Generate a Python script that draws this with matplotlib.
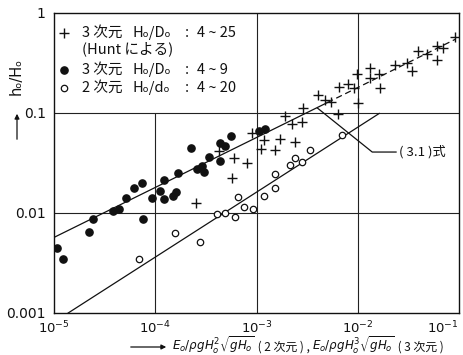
import matplotlib
matplotlib.use("Agg")
import matplotlib.pyplot as plt

plt.rcParams['font.family'] = ['DejaVu Sans', 'Noto Sans CJK JP']
plt.rcParams['mathtext.fontset'] = 'dejavusans'

# === データ ===
# + 3次元 H0/D0 : 4~25 (Hunt)
hunt_x = [2.55e-4, 4.26e-4, 5.77e-4, 5.93e-4, 8.05e-4, 8.93e-4, 1.12e-3, 1.19e-3,
          1.54e-3, 1.72e-3, 2.42e-3, 1.91e-3, 2.24e-3, 2.81e-3, 2.89e-3, 4.02e-3,
          4.79e-3, 5.48e-3, 6.33e-3, 6.46e-3, 8.1e-3, 9.24e-3, 9.9e-3, 9.96e-3,
          1.31e-2, 1.31e-2, 1.63e-2, 1.65e-2, 2.34e-2, 3.07e-2, 3.47e-2, 3.92e-2,
          4.79e-2, 6.07e-2, 6.07e-2, 6.9e-2, 9.04e-2]
hunt_y = [0.0127, 0.0414, 0.0226, 0.0357, 0.0318, 0.0635, 0.0437, 0.0543,
          0.0427, 0.0546, 0.0516, 0.0933, 0.0776, 0.0804, 0.1135, 0.150,
          0.135, 0.128, 0.098, 0.180, 0.195, 0.178, 0.245, 0.125,
          0.284, 0.224, 0.248, 0.178, 0.302, 0.318, 0.263, 0.415,
          0.392, 0.336, 0.473, 0.449, 0.571]

# ● 3次元 H0/D0 : 4~9
solid_x = [1.06e-5, 1.23e-5, 2.23e-5, 2.44e-5, 3.84e-5, 4.37e-5, 5.2e-5, 6.14e-5,
           7.36e-5, 7.58e-5, 9.38e-5, 1.11e-4, 1.21e-4, 1.21e-4, 1.50e-4, 1.62e-4,
           1.68e-4, 2.28e-4, 2.61e-4, 2.92e-4, 3.03e-4, 3.37e-4, 4.39e-4, 4.39e-4,
           4.84e-4, 5.64e-4, 1.07e-3, 1.20e-3]
solid_y = [0.00443, 0.00344, 0.0065, 0.00865, 0.0104, 0.0110, 0.0141, 0.0179,
           0.0198, 0.0087, 0.0141, 0.0166, 0.0214, 0.0138, 0.0149, 0.0161,
           0.0253, 0.045, 0.0275, 0.0297, 0.0255, 0.036, 0.0498, 0.0333,
           0.0468, 0.0585, 0.066, 0.069]

# ○ 2次元 H0/d0 : 4~20
open_x = [6.92e-5, 1.56e-4, 2.79e-4, 4.06e-4, 4.84e-4, 6.14e-4, 6.6e-4, 7.5e-4,
          9.14e-4, 1.18e-3, 1.54e-3, 1.54e-3, 2.15e-3, 2.42e-3, 2.81e-3, 3.39e-3,
          6.98e-3]
open_y = [0.00343, 0.00635, 0.0051, 0.0098, 0.0101, 0.00906, 0.0144, 0.0116,
          0.011, 0.0149, 0.0179, 0.0245, 0.030, 0.0357, 0.032, 0.043,
          0.0596]

# (3.1)式の直線
line3d_x = [1e-5, 5e-3, 9.2e-2]
line3d_y = [0.0057, 0.127, 0.546]
line2d_x = [1.38e-5, 1.63e-2]
line2d_y = [0.001, 0.099]
leader_x = [4.0e-3, 1.39e-2, 2.39e-2]
leader_y = [0.112, 0.0407, 0.0407]

xticks = [1e-5, 1e-4, 1e-3, 1e-2, 1e-1]
xtick_labels = [r"$10^{-5}$", r"$10^{-4}$", r"$10^{-3}$", r"$10^{-2}$", r"$10^{-1}$"]
yticks = [1e-3, 1e-2, 1e-1, 1]
ytick_labels = ["0.001", "0.01", "0.1", "1"]

cjk = ['Noto Sans CJK JP', 'DejaVu Sans']

# === 図 ===
fig = plt.figure(figsize=(4.63, 3.55), dpi=100)
ax = fig.add_axes([54 / 463, 42 / 355, 405 / 463, 300 / 355])
ax.set_xscale("log")
ax.set_yscale("log")
ax.set_xlim(1e-5, 1e-1)
ax.set_ylim(1e-3, 1)
ax.minorticks_off()
ax.set_xticks(xticks, xtick_labels)
ax.set_yticks(yticks, ytick_labels)
ax.tick_params(length=0, colors="#111")
ax.tick_params(axis="y", pad=6, labelsize=10)
ax.tick_params(axis="x", pad=5, labelsize=9.5)
ax.get_xticklabels()[-1].set_horizontalalignment("right")
for s in ax.spines.values():
    s.set_linewidth(1.0)
    s.set_color("#111")

# グリッド（凡例の枠を兼ねる）
gkw = dict(color="#222", lw=0.8, zorder=1)
ax.axhline(0.1, **gkw)
ax.axhline(0.01, **gkw)
ax.axvline(1e-3, **gkw)
ax.axvline(1e-2, **gkw)
ax.vlines(1e-4, 1e-3, 0.1, **gkw)

# 直線
ax.plot(line3d_x[:2], line3d_y[:2], color="#111", lw=0.9, zorder=2)
ax.plot(line3d_x[1:], line3d_y[1:], color="#111", lw=0.9, ls=(0, (5, 3)), zorder=2)
ax.plot(line2d_x, line2d_y, color="#111", lw=0.9, zorder=2)
ax.plot(leader_x, leader_y, color="#111", lw=0.9, zorder=2)
ax.text(leader_x[-1] * 1.08, leader_y[-1], "( 3.1 )式", family=cjk, fontsize=9.5,
        va="center", ha="left", color="#111")

# データ点
ax.plot(hunt_x, hunt_y, ls="none", marker="+", ms=6.5, mew=1.0, color="#111", zorder=3)
ax.plot(solid_x, solid_y, ls="none", marker="o", ms=5.2, color="#111", zorder=3)
ax.plot(open_x, open_y, ls="none", marker="o", ms=4.6, mfc="white", mec="#111",
        mew=0.9, zorder=3)

# 凡例（手書き配置）
def ax_xy(px, py):
    return (px - 54) / 405, (313 - py) / 300

leg_rows = [
    ("+", dict(ms=6.5, mew=1.0, mfc="#111"), 33, "3 次元", "Hₒ/Dₒ", "4 ~ 25"),
    ("o", dict(ms=5.2, mfc="#111"), 70, "3 次元", "Hₒ/Dₒ", "4 ~ 9"),
    ("o", dict(ms=4.6, mfc="white", mew=0.9), 88, "2 次元", "Hₒ/dₒ", "4 ~ 20"),
]
for mk, kw, py, a, b, c in leg_rows:
    mx, my = ax_xy(64, py)
    ax.plot([mx], [my], marker=mk, color="#111", mec="#111", transform=ax.transAxes,
            clip_on=False, **kw)
    for px, s in [(82, a), (133, b), (185, ":"), (197, c)]:
        tx, ty = ax_xy(px, py)
        ax.text(tx, ty, s, transform=ax.transAxes, family=cjk, fontsize=10.5,
                va="center", ha="left", color="#111")
tx, ty = ax_xy(82, 49)
ax.text(tx, ty, "(Hunt による)", transform=ax.transAxes, family=cjk, fontsize=10.5,
        va="center", ha="left", color="#111")

# 縦軸ラベル
fig.text(16 / 463, 1 - 76 / 355, "hₒ/Hₒ", rotation=90, fontsize=10.5,
         ha="center", va="center", color="#111")
ax.annotate("", xy=(17, 355 - 111), xytext=(17, 355 - 142), xycoords="figure pixels",
            textcoords="figure pixels",
            arrowprops=dict(arrowstyle="-|>", color="#111", lw=0.9, mutation_scale=7),
            annotation_clip=False)

# 横軸ラベル（同じベースラインに並べる）
base = 355 - 351
ax.annotate("", xy=(169, 355 - 347), xytext=(128, 355 - 347), xycoords="figure pixels",
            textcoords="figure pixels",
            arrowprops=dict(arrowstyle="-|>", color="#111", lw=0.9, mutation_scale=7),
            annotation_clip=False)
parts = [
    (r"$E_o/\rho g H_o^{2}\sqrt{gH_o}$", None),
    (" ( 2 次元 ) , ", cjk),
    (r"$E_o/\rho g H_o^{3}\sqrt{gH_o}$", None),
    (" ( 3 次元 )", cjk),
]
prev = None
for s, fam in parts:
    kw = dict(va="baseline", ha="left", fontsize=8.6, color="#111", annotation_clip=False)
    if fam:
        kw["family"] = fam
    if prev is None:
        prev = ax.annotate(s, xy=(172, base), xycoords="figure pixels", **kw)
    else:
        prev = ax.annotate(s, xy=(1, base), xycoords=(prev, "figure pixels"), **kw)

fig.savefig("out.png", dpi=100)
